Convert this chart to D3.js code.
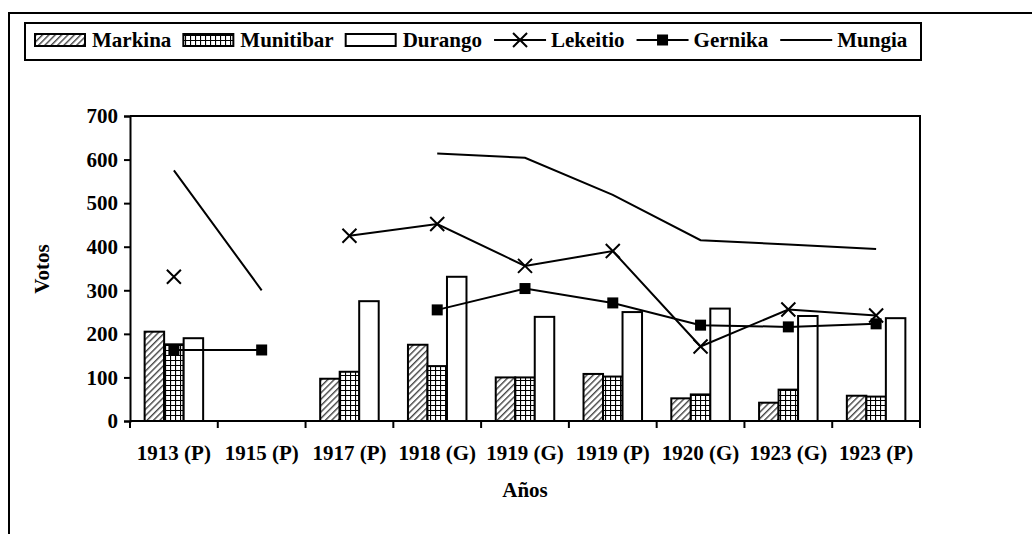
<!DOCTYPE html>
<html>
<head>
<meta charset="utf-8">
<script src="https://cdn.jsdelivr.net/npm/d3@7"></script>
<style>
  html, body { margin: 0; padding: 0; background: #fff; }
  svg { display: block; }
  text { font-family: "Liberation Serif", "Times New Roman", serif; font-weight: bold; fill: #000; }
</style>
</head>
<body>
<svg id="chart" width="1032" height="534"></svg>
<script>
// ---- data ----
const categories = ["1913 (P)", "1915 (P)", "1917 (P)", "1918 (G)", "1919 (G)", "1919 (P)", "1920 (G)", "1923 (G)", "1923 (P)"];
const markina   = [205, null,  97, 175, 100, 108,  52,  42,  58];
const munitibar = [176, null, 113, 126, 100, 102,  61,  72,  56];
const durango   = [190, null, 275, 331, 239, 250, 258, 241, 236];
const lekeitio  = [331, null, 425, 452, 356, 390, 171, 256, 242];
const gernika   = [163, 163, null, 255, 304, 271, 220, 216, 223];
const mungia    = [575, 300, null, 614, 604, 519, 415, 405, 395];
const yTicks = [0, 100, 200, 300, 400, 500, 600, 700];
const barSeries = ["Markina", "Munitibar", "Durango"];
const lineSeries = ["Lekeitio", "Gernika", "Mungia"];
const xTitle = "Años";
const yTitle = "Votos";

// ---- layout ----
const svg = d3.select("#chart");
const plot = { left: 130, right: 920, top: 116, bottom: 421 };
const FS = 21;

// patterns
const defs = svg.append("defs");
const hatch = defs.append("pattern").attr("id", "hatch")
  .attr("patternUnits", "userSpaceOnUse").attr("width", 4.5).attr("height", 4.5)
  .attr("patternTransform", "rotate(45)");
hatch.append("rect").attr("width", 4.5).attr("height", 4.5).attr("fill", "#fff");
hatch.append("line").attr("x1", 0.7).attr("y1", 0).attr("x2", 0.7).attr("y2", 4.5)
  .attr("stroke", "#444").attr("stroke-width", 1.4);
const grid = defs.append("pattern").attr("id", "grid")
  .attr("patternUnits", "userSpaceOnUse").attr("width", 5).attr("height", 5);
grid.append("rect").attr("width", 5).attr("height", 5).attr("fill", "#fff");
grid.append("path").attr("d", "M0,0.5H5M0.5,0V5").attr("stroke", "#000").attr("stroke-width", 1.2).attr("fill", "none");

const fills = { Markina: "url(#hatch)", Munitibar: "url(#grid)", Durango: "#fff" };

// outer frame
svg.append("path").attr("d", "M9,534V13H1032").attr("fill", "none").attr("stroke", "#000").attr("stroke-width", 2);

// scales
const x0 = d3.scaleBand().domain(categories).range([plot.left, plot.right]).paddingInner(0).paddingOuter(0);
const x1 = d3.scaleBand().domain(barSeries).range([0, x0.bandwidth()]).paddingInner(0).paddingOuter(0.75);
const y = d3.scaleLinear().domain([0, 700]).range([plot.bottom, plot.top]);
const cx = c => x0(c) + x0.bandwidth() / 2;

// bars
const barData = { Markina: markina, Munitibar: munitibar, Durango: durango };
barSeries.forEach(s => {
  svg.append("g").selectAll("rect")
    .data(categories.map((c, i) => ({ c, v: barData[s][i] })).filter(d => d.v != null))
    .join("rect")
    .attr("x", d => x0(d.c) + x1(s))
    .attr("y", d => y(d.v))
    .attr("width", x1.bandwidth())
    .attr("height", d => y(0) - y(d.v))
    .attr("fill", fills[s])
    .attr("stroke", "#000").attr("stroke-width", 2);
});

// plot frame top/right
svg.append("path").attr("d", `M${plot.left},${plot.top}H${plot.right}V${plot.bottom}`)
  .attr("fill", "none").attr("stroke", "#000").attr("stroke-width", 2);

// axes
const yAxis = svg.append("g").attr("transform", `translate(${plot.left},0)`)
  .call(d3.axisLeft(y).tickValues(yTicks).tickSize(6).tickPadding(6).tickFormat(d3.format("d")));
yAxis.select(".domain").attr("stroke-width", 2);
yAxis.selectAll(".tick line").attr("stroke-width", 2);
yAxis.selectAll("text").attr("font-size", FS).attr("font-family", "Liberation Serif").attr("font-weight", "bold");

const xAxis = svg.append("g").attr("transform", `translate(0,${plot.bottom})`)
  .call(d3.axisBottom(x0).tickSize(0).tickPadding(24));
xAxis.select(".domain").attr("stroke-width", 2).attr("d", `M${plot.left},0H${plot.right + 1}`);
xAxis.selectAll("text").attr("font-size", FS).attr("font-family", "Liberation Serif").attr("font-weight", "bold");
// category boundary ticks
xAxis.append("g").selectAll("line")
  .data(categories.map(c => x0(c)).concat([x0(categories[categories.length - 1]) + x0.bandwidth()]))
  .join("line")
  .attr("x1", d => d).attr("x2", d => d).attr("y1", 0).attr("y2", 7)
  .attr("stroke", "#000").attr("stroke-width", 2);

// lines
const lineData = { Lekeitio: lekeitio, Gernika: gernika, Mungia: mungia };
const lineGen = d3.line().defined(d => d.v != null).x(d => cx(d.c)).y(d => y(d.v));
lineSeries.forEach(s => {
  const pts = categories.map((c, i) => ({ c, v: lineData[s][i] }));
  svg.append("path").datum(pts).attr("d", lineGen)
    .attr("fill", "none").attr("stroke", "#000").attr("stroke-width", 2);
});

function drawX(g, px, py, r) {
  g.append("path").attr("d", `M${px - r},${py - r}L${px + r},${py + r}M${px - r},${py + r}L${px + r},${py - r}`)
    .attr("stroke", "#000").attr("stroke-width", 2).attr("fill", "none");
}
function drawSq(g, px, py, r) {
  g.append("rect").attr("x", px - r).attr("y", py - r).attr("width", 2 * r).attr("height", 2 * r).attr("fill", "#000");
}
const mg = svg.append("g");
categories.forEach((c, i) => {
  if (lekeitio[i] != null) drawX(mg, cx(c), y(lekeitio[i]), 7);
  if (gernika[i] != null) drawSq(mg, cx(c), y(gernika[i]), 5.5);
});

// axis titles
svg.append("text").attr("x", (plot.left + plot.right) / 2).attr("y", 497)
  .attr("text-anchor", "middle").attr("font-size", FS).text(xTitle);
svg.append("text").attr("transform", "translate(49,269) rotate(-90)")
  .attr("text-anchor", "middle").attr("font-size", FS).text(yTitle);

// legend
svg.append("rect").attr("x", 25).attr("y", 23).attr("width", 896).attr("height", 37)
  .attr("fill", "#fff").attr("stroke", "#000").attr("stroke-width", 2);
const lg = svg.append("g");
let lx = 35;
const midY = 40;
const items = barSeries.concat(lineSeries);
items.forEach(s => {
  if (barSeries.includes(s)) {
    lg.append("rect").attr("x", lx).attr("y", midY - 6).attr("width", 50).attr("height", 12)
      .attr("fill", fills[s]).attr("stroke", "#000").attr("stroke-width", 2);
  } else {
    lg.append("line").attr("x1", lx).attr("x2", lx + 52).attr("y1", midY).attr("y2", midY)
      .attr("stroke", "#000").attr("stroke-width", 2);
    if (s === "Lekeitio") drawX(lg, lx + 26, midY, 7);
    if (s === "Gernika") drawSq(lg, lx + 26, midY, 5.5);
  }
  const t = lg.append("text").attr("x", lx + 57).attr("y", midY + 7).attr("font-size", FS).text(s);
  lx = lx + 57 + t.node().getComputedTextLength() + 12;
});
</script>
</body>
</html>
